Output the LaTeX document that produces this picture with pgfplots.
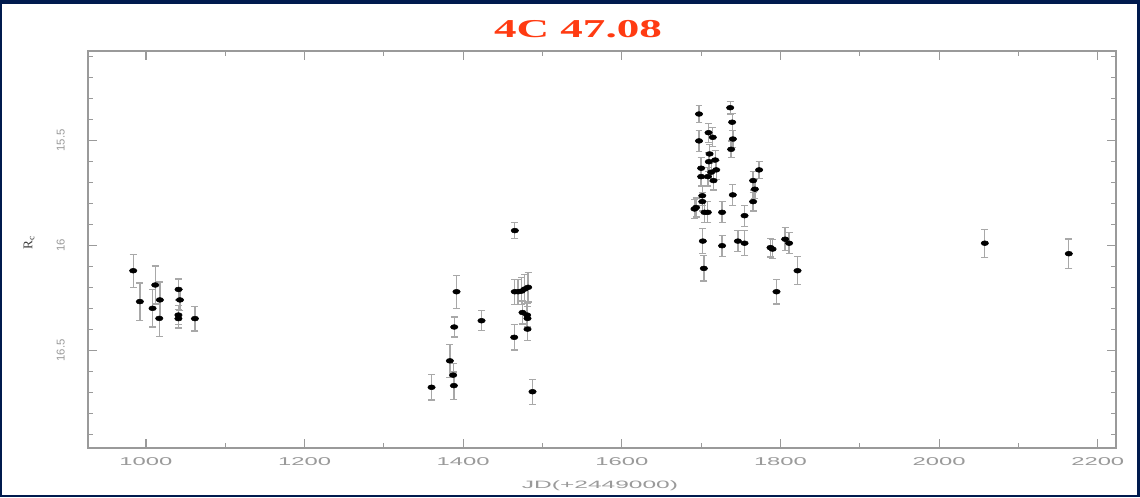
\documentclass[border=0pt]{standalone}
\usepackage{pgfplots}
\pgfplotsset{compat=1.18}
\usepackage{fontspec}
\setmainfont{Liberation Serif}
\newfontfamily\lsans{Liberation Sans}

\definecolor{frame}{HTML}{001A4E}
\definecolor{axisgrey}{HTML}{9A9A9A}
\definecolor{bargrey}{HTML}{A8A8A8}
\definecolor{titlered}{HTML}{FF3B12}

% R_c light curve of 4C 47.08: JD offset, magnitude, 1-sigma error
\pgfplotstableread{
x y e
984.0 16.121 0.079
992.4 16.268 0.089
1008.4 16.300 0.089
1011.8 16.189 0.090
1017.6 16.260 0.085
1016.8 16.348 0.087
1041.2 16.210 0.050
1042.9 16.260 0.050
1041.0 16.332 0.045
1041.0 16.349 0.045
1061.8 16.349 0.059
1360.1 16.676 0.060
1383.2 16.550 0.078
1387.4 16.618 0.055
1388.3 16.668 0.065
1388.7 16.389 0.048
1391.6 16.221 0.079
1423.1 16.359 0.048
1465.1 15.930 0.038
1464.3 16.438 0.060
1465.0 16.221 0.060
1469.3 16.221 0.060
1473.6 16.218 0.065
1477.7 16.208 0.070
1481.9 16.200 0.070
1474.8 16.320 0.055
1480.6 16.332 0.055
1481.1 16.348 0.055
1481.1 16.399 0.055
1487.4 16.697 0.060
1697.3 15.375 0.040
1697.3 15.503 0.050
1709.3 15.464 0.045
1714.7 15.486 0.045
1710.6 15.565 0.045
1717.7 15.594 0.045
1709.7 15.602 0.045
1700.0 15.633 0.050
1719.0 15.641 0.045
1712.7 15.652 0.045
1700.0 15.673 0.045
1708.5 15.673 0.045
1715.6 15.692 0.045
1701.4 15.764 0.045
1701.4 15.792 0.045
1691.6 15.827 0.045
1693.6 15.820 0.045
1704.2 15.843 0.050
1708.4 15.843 0.050
1702.1 15.980 0.060
1703.4 16.110 0.060
1726.4 15.843 0.050
1726.4 16.002 0.050
1739.9 15.760 0.050
1736.6 15.345 0.030
1739.1 15.414 0.040
1740.0 15.494 0.040
1737.8 15.543 0.040
1746.3 15.980 0.050
1754.7 15.990 0.060
1754.7 15.859 0.050
1773.1 15.641 0.040
1765.5 15.692 0.045
1767.7 15.733 0.045
1765.5 15.792 0.045
1787.4 16.011 0.045
1790.0 16.018 0.045
1795.0 16.221 0.058
1805.9 15.971 0.055
1810.9 15.990 0.050
1821.5 16.121 0.067
2057.6 15.990 0.067
2163.5 16.040 0.070
}\lcdata

\begin{document}
\begin{tikzpicture}
% slide frame (1 px = 0.75 pt)
\fill[frame] (0pt,0pt) rectangle (855pt,372.75pt);
\fill[white] (1.5pt,1.5pt) rectangle (852.75pt,369.75pt);

\begin{axis}[
  at={(66pt,36.75pt)}, anchor=south west,
  scale only axis,
  width=771pt, height=297.75pt,
  xmin=927, xmax=2223,
  ymin=15.075, ymax=16.965,
  y dir=reverse,
  axis line style={axisgrey, line width=1.1pt},
  xtick={1000,1200,...,2200},
  minor x tick num=1,
  ytick={15.5,16,16.5},
  minor ytick={15.1,15.2,...,16.9},
  tick align=inside,
  xtick pos=both, ytick pos=both,
  major tick length=7pt,
  minor tick length=4pt,
  tick style={axisgrey, line width=0.9pt},
  /pgf/number format/assume math mode=true,
  /pgf/number format/1000 sep={},
  ticklabel style={font=\lsans\fontsize{8.5}{10}\selectfont, text=axisgrey},
  xticklabel style={xscale=2.1, yshift=-4pt},
  yticklabel style={rotate=90, anchor=south},
  yticklabel shift=14pt,
]
\addplot[
  only marks,
  mark=*, mark size=1.8pt,
  mark options={black, xscale=1.55},
  error bars/.cd,
    y dir=both, y explicit,
    error bar style={bargrey, line width=1pt},
    error mark=-,
    error mark options={bargrey, line width=0.9pt, mark size=2.6pt, rotate=90},
] table[x=x, y=y, y error=e] {\lcdata};
\end{axis}

% title and axis labels
\node[text=titlered, font=\bfseries\fontsize{19.3}{22}\selectfont, xscale=1.75]
  at (433.5pt,350.6pt) {4C 47.08};
\node[text=axisgrey, font=\lsans\fontsize{8}{10}\selectfont, xscale=2.3]
  at (450pt,8.25pt) {JD(+2449000)};
\node[rotate=90, font=\fontsize{10}{12}\selectfont, text=black!75]
  at (21.75pt,190.5pt) {R\textsubscript{c}};
\end{tikzpicture}
\end{document}
